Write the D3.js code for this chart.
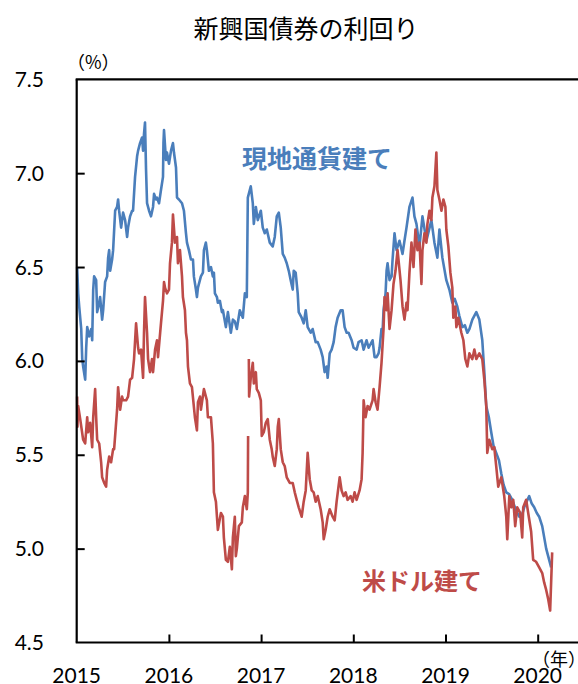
<!DOCTYPE html>
<html><head><meta charset="utf-8">
<script src="https://cdn.jsdelivr.net/npm/d3@7/dist/d3.min.js"></script>
<style>html,body{margin:0;padding:0;background:#fff;overflow:hidden}</style>
</head><body>
<svg id="c" width="578" height="684"></svg>
<script>
const title = "新興国債券の利回り";
const yUnit = "（%）";
const xUnit = "（年）";
const yTicks = [4.5, 5.0, 5.5, 6.0, 6.5, 7.0, 7.5];
const xTicks = [2015, 2016, 2017, 2018, 2019, 2020];
const seriesNames = ["現地通貨建て", "米ドル建て"];

// 現地通貨建て [year, %]
const localCcy = [[2015.005,6.50],[2015.016,6.36],[2015.027,6.29],[2015.049,6.17],[2015.060,6.01],[2015.070,5.97],[2015.092,5.90],[2015.103,6.07],[2015.114,6.18],[2015.135,6.13],[2015.157,6.17],[2015.168,6.11],[2015.179,6.38],[2015.189,6.45],[2015.211,6.43],[2015.222,6.26],[2015.244,6.31],[2015.254,6.34],[2015.276,6.22],[2015.287,6.27],[2015.308,6.42],[2015.330,6.45],[2015.341,6.55],[2015.352,6.59],[2015.363,6.48],[2015.384,6.54],[2015.395,6.59],[2015.417,6.80],[2015.438,6.82],[2015.449,6.86],[2015.460,6.80],[2015.482,6.71],[2015.503,6.79],[2015.525,6.75],[2015.547,6.66],[2015.557,6.71],[2015.579,6.77],[2015.601,6.80],[2015.611,6.80],[2015.633,6.98],[2015.655,7.09],[2015.666,7.12],[2015.687,7.16],[2015.709,7.19],[2015.720,7.12],[2015.730,7.21],[2015.741,7.27],[2015.752,7.02],[2015.763,6.84],[2015.785,6.80],[2015.806,6.77],[2015.828,6.82],[2015.839,6.89],[2015.860,6.86],[2015.871,6.87],[2015.893,6.84],[2015.914,6.91],[2015.936,6.98],[2015.941,7.16],[2015.947,7.23],[2015.968,7.07],[2015.979,7.11],[2016.001,7.05],[2016.023,7.12],[2016.044,7.16],[2016.055,7.11],[2016.077,7.03],[2016.088,6.87],[2016.109,6.86],[2016.142,6.84],[2016.163,6.80],[2016.185,6.68],[2016.196,6.63],[2016.217,6.59],[2016.239,6.54],[2016.261,6.54],[2016.271,6.45],[2016.293,6.38],[2016.304,6.34],[2016.315,6.39],[2016.347,6.45],[2016.369,6.47],[2016.380,6.59],[2016.401,6.63],[2016.412,6.59],[2016.434,6.48],[2016.456,6.50],[2016.477,6.45],[2016.488,6.47],[2016.499,6.36],[2016.521,6.34],[2016.531,6.31],[2016.553,6.32],[2016.575,6.26],[2016.586,6.27],[2016.618,6.18],[2016.640,6.26],[2016.672,6.15],[2016.694,6.22],[2016.715,6.21],[2016.737,6.17],[2016.769,6.27],[2016.802,6.23],[2016.824,6.36],[2016.845,6.34],[2016.856,6.87],[2016.888,6.93],[2016.910,6.84],[2016.921,6.73],[2016.943,6.82],[2016.964,6.75],[2016.997,6.80],[2017.018,6.71],[2017.040,6.68],[2017.062,6.70],[2017.094,6.63],[2017.126,6.61],[2017.148,6.66],[2017.170,6.77],[2017.192,6.79],[2017.213,6.71],[2017.235,6.57],[2017.256,6.55],[2017.278,6.52],[2017.300,6.48],[2017.321,6.43],[2017.343,6.38],[2017.354,6.48],[2017.375,6.47],[2017.397,6.36],[2017.408,6.26],[2017.440,6.23],[2017.462,6.20],[2017.484,6.27],[2017.505,6.18],[2017.538,6.15],[2017.559,6.17],[2017.592,6.10],[2017.614,6.10],[2017.646,6.06],[2017.668,6.02],[2017.689,5.94],[2017.711,5.97],[2017.722,5.91],[2017.744,6.04],[2017.765,6.06],[2017.787,6.10],[2017.808,6.18],[2017.830,6.23],[2017.863,6.27],[2017.884,6.27],[2017.906,6.18],[2017.928,6.15],[2017.949,6.15],[2017.982,6.11],[2018.003,6.07],[2018.036,6.06],[2018.057,6.10],[2018.090,6.11],[2018.112,6.06],[2018.144,6.11],[2018.166,6.07],[2018.209,6.11],[2018.231,6.02],[2018.252,6.02],[2018.274,6.04],[2018.285,6.07],[2018.306,6.17],[2018.317,6.15],[2018.328,6.27],[2018.350,6.36],[2018.361,6.48],[2018.372,6.52],[2018.393,6.43],[2018.415,6.45],[2018.426,6.54],[2018.447,6.68],[2018.469,6.59],[2018.501,6.64],[2018.534,6.57],[2018.555,6.64],[2018.577,6.71],[2018.609,6.82],[2018.642,6.87],[2018.663,6.77],[2018.685,6.73],[2018.718,6.61],[2018.750,6.77],[2018.793,6.64],[2018.847,6.75],[2018.880,6.63],[2018.912,6.55],[2018.934,6.70],[2018.966,6.55],[2019.009,6.43],[2019.042,6.38],[2019.074,6.31],[2019.100,6.33],[2019.128,6.29],[2019.150,6.24],[2019.183,6.18],[2019.210,6.19],[2019.237,6.15],[2019.260,6.17],[2019.291,6.22],[2019.334,6.26],[2019.367,6.22],[2019.399,6.11],[2019.421,5.94],[2019.442,5.76],[2019.470,5.70],[2019.496,5.62],[2019.520,5.55],[2019.550,5.51],[2019.580,5.47],[2019.605,5.40],[2019.630,5.34],[2019.659,5.30],[2019.690,5.29],[2019.724,5.26],[2019.760,5.21],[2019.800,5.17],[2019.830,5.18],[2019.854,5.22],[2019.880,5.25],[2019.908,5.28],[2019.935,5.24],[2019.962,5.22],[2019.990,5.19],[2020.016,5.17],[2020.049,5.12],[2020.092,5.00],[2020.146,4.90]];

// 米ドル建て [year, %]  (null = missing data)
const usdDenom = [[2015.005,5.81],[2015.008,5.65],[2015.016,5.76],[2015.038,5.69],[2015.070,5.58],[2015.092,5.56],[2015.114,5.70],[2015.124,5.62],[2015.146,5.67],[2015.168,5.54],[2015.179,5.70],[2015.200,5.85],[2015.211,5.70],[2015.222,5.58],[2015.244,5.56],[2015.265,5.46],[2015.276,5.38],[2015.298,5.35],[2015.319,5.33],[2015.330,5.42],[2015.352,5.49],[2015.373,5.46],[2015.395,5.53],[2015.406,5.53],[2015.438,5.74],[2015.449,5.86],[2015.471,5.74],[2015.492,5.81],[2015.503,5.79],[2015.536,5.79],[2015.557,5.81],[2015.579,5.90],[2015.601,5.91],[2015.622,6.01],[2015.644,6.20],[2015.666,6.07],[2015.676,6.04],[2015.698,6.06],[2015.720,5.91],[2015.730,6.15],[2015.741,6.34],[2015.763,6.15],[2015.774,6.01],[2015.795,5.94],[2015.817,6.01],[2015.828,5.94],[2015.850,6.06],[2015.871,6.11],[2015.882,6.02],[2015.914,6.20],[2015.936,6.32],[2015.947,6.42],[2015.958,6.39],[2015.979,6.36],[2016.001,6.38],[2016.012,6.52],[2016.033,6.63],[2016.044,6.78],[2016.066,6.63],[2016.088,6.66],[2016.098,6.52],[2016.120,6.59],[2016.142,6.45],[2016.152,6.34],[2016.174,6.27],[2016.185,6.15],[2016.196,6.11],[2016.207,5.97],[2016.228,5.88],[2016.250,5.86],[2016.282,5.70],[2016.304,5.63],[2016.315,5.78],[2016.337,5.81],[2016.347,5.74],[2016.380,5.85],[2016.412,5.79],[2016.423,5.70],[2016.456,5.70],[2016.477,5.56],[2016.488,5.30],[2016.510,5.25],[2016.531,5.10],[2016.564,5.19],[2016.586,5.17],[2016.596,5.06],[2016.618,4.94],[2016.640,4.93],[2016.661,5.01],[2016.683,4.89],[2016.694,5.06],[2016.715,5.17],[2016.726,4.96],[2016.737,5.00],[2016.759,5.12],[2016.791,5.14],[2016.802,5.22],[2016.824,5.28],[2016.845,5.21],[2016.856,5.30],[2016.859,5.60],[2016.863,null],[2016.867,6.01],[2016.870,5.81],[2016.888,5.91],[2016.910,5.99],[2016.921,5.88],[2016.943,5.94],[2016.953,5.85],[2016.975,5.83],[2016.997,5.79],[2017.007,5.60],[2017.029,5.62],[2017.051,5.67],[2017.072,5.69],[2017.094,5.58],[2017.115,5.53],[2017.126,5.49],[2017.148,5.44],[2017.170,5.53],[2017.181,5.65],[2017.192,5.69],[2017.213,5.53],[2017.235,5.46],[2017.256,5.44],[2017.278,5.38],[2017.311,5.35],[2017.343,5.35],[2017.365,5.30],[2017.386,5.26],[2017.408,5.22],[2017.440,5.17],[2017.462,5.25],[2017.484,5.31],[2017.505,5.51],[2017.527,5.37],[2017.549,5.31],[2017.570,5.30],[2017.592,5.25],[2017.614,5.28],[2017.646,5.21],[2017.668,5.14],[2017.679,5.05],[2017.700,5.10],[2017.722,5.17],[2017.744,5.21],[2017.776,5.17],[2017.798,5.15],[2017.819,5.25],[2017.852,5.38],[2017.873,5.31],[2017.895,5.28],[2017.917,5.30],[2017.938,5.26],[2017.971,5.28],[2017.992,5.25],[2018.014,5.30],[2018.036,5.26],[2018.068,5.31],[2018.090,5.37],[2018.101,5.51],[2018.106,5.63],[2018.112,5.79],[2018.133,5.70],[2018.155,5.76],[2018.176,5.74],[2018.209,5.79],[2018.220,5.85],[2018.242,5.78],[2018.263,5.74],[2018.285,5.86],[2018.306,5.99],[2018.328,6.17],[2018.339,6.34],[2018.361,6.27],[2018.372,6.36],[2018.393,6.17],[2018.415,6.27],[2018.436,6.41],[2018.458,6.48],[2018.480,6.59],[2018.512,6.43],[2018.534,6.29],[2018.555,6.22],[2018.577,6.31],[2018.588,6.27],[2018.609,6.47],[2018.631,6.63],[2018.653,6.50],[2018.674,6.70],[2018.696,6.59],[2018.718,6.63],[2018.739,6.41],[2018.750,6.59],[2018.772,6.68],[2018.793,6.63],[2018.804,6.73],[2018.826,6.80],[2018.847,6.75],[2018.858,6.87],[2018.880,6.93],[2018.901,7.11],[2018.912,6.91],[2018.934,6.86],[2018.956,6.80],[2018.977,6.86],[2018.999,6.82],[2019.009,6.70],[2019.031,6.61],[2019.053,6.47],[2019.074,6.39],[2019.085,6.23],[2019.107,6.29],[2019.118,6.18],[2019.139,6.23],[2019.172,6.15],[2019.194,6.11],[2019.215,6.01],[2019.237,5.97],[2019.259,6.04],[2019.291,6.01],[2019.313,6.06],[2019.334,6.01],[2019.367,6.04],[2019.399,6.01],[2019.421,5.90],[2019.442,5.76],[2019.453,5.51],[2019.475,5.58],[2019.507,5.53],[2019.529,5.54],[2019.550,5.44],[2019.572,5.33],[2019.605,5.38],[2019.615,5.35],[2019.637,5.28],[2019.659,5.17],[2019.670,5.05],[2019.692,5.28],[2019.713,5.22],[2019.735,5.26],[2019.756,5.12],[2019.778,5.22],[2019.810,5.19],[2019.832,5.06],[2019.843,5.22],[2019.875,5.26],[2019.897,5.19],[2019.929,5.09],[2019.951,4.94],[2019.983,4.93],[2020.016,4.90],[2020.049,4.87],[2020.070,4.82],[2020.092,4.78],[2020.114,4.73],[2020.135,4.67],[2020.157,4.98]];

const colors = ["#4A7EBB", "#BE4B48"];

const svg = d3.select("#c");
const W = 578, H = 684;
const plotLeft = 76.7, plotTop = 79.3, plotBottom = 642.5;
const yearPx = 92.2;

const x = d3.scaleLinear().domain([2015, 2021]).range([plotLeft, plotLeft + 6 * yearPx]);
const y = d3.scaleLinear().domain([4.5, 7.5]).range([plotBottom, plotTop]);

const jp = "'Noto Sans CJK JP','Noto Sans',sans-serif";
const num = "Lato,'Liberation Sans',sans-serif";

// title
svg.append("text").attr("x", 306).attr("y", 38).attr("text-anchor", "middle")
  .attr("font-family", jp).attr("font-size", 25).attr("fill", "#000").text(title);

// unit labels
svg.append("text").attr("x", 67).attr("y", 69).attr("font-family", jp)
  .attr("font-size", 18).attr("fill", "#000").text(yUnit);
svg.append("text").attr("x", 532).attr("y", 666).attr("font-family", jp)
  .attr("font-size", 18).attr("fill", "#000").text(xUnit);

// lines
const line = d3.line().defined(d => d[1] != null).x(d => x(d[0])).y(d => y(d[1]));
const g = svg.append("g");
[localCcy, usdDenom].forEach((s, i) => {
  g.append("path").datum(s).attr("d", line).attr("fill", "none")
    .attr("stroke", colors[i]).attr("stroke-width", 2.6).attr("stroke-linejoin", "round");
});

// axes
const yAxis = d3.axisRight(y).tickValues(yTicks.slice(1, -1)).tickSize(8).tickFormat("");
const ya = svg.append("g").attr("transform", `translate(${plotLeft},0)`).call(yAxis);
ya.select(".domain").remove();
ya.selectAll("line").attr("stroke", "#000").attr("stroke-width", 2);

const xAxis = d3.axisTop(x).tickValues(xTicks.slice(1)).tickSize(8).tickFormat("");
const xa = svg.append("g").attr("transform", `translate(0,${plotBottom})`).call(xAxis);
xa.select(".domain").remove();
xa.selectAll("line").attr("stroke", "#000").attr("stroke-width", 2);

// frame lines
svg.append("line").attr("x1", plotLeft).attr("x2", plotLeft).attr("y1", plotTop).attr("y2", plotBottom)
  .attr("stroke", "#000").attr("stroke-width", 2.2);
svg.append("line").attr("x1", plotLeft - 1).attr("x2", W).attr("y1", plotBottom).attr("y2", plotBottom)
  .attr("stroke", "#000").attr("stroke-width", 2.2);
svg.append("line").attr("x1", plotLeft - 1).attr("x2", W).attr("y1", plotTop).attr("y2", plotTop)
  .attr("stroke", "#000").attr("stroke-width", 2.2);

// tick labels
svg.append("g").selectAll("text").data(yTicks).join("text")
  .attr("x", 44).attr("y", d => y(d)).attr("dy", "0.36em").attr("text-anchor", "end")
  .attr("font-family", num).attr("font-size", 21).attr("fill", "#000")
  .text(d => d.toFixed(1));
svg.append("g").selectAll("text").data(xTicks).join("text")
  .attr("x", d => x(d)).attr("y", 683).attr("text-anchor", "middle")
  .attr("font-family", num).attr("font-size", 21).attr("fill", "#000")
  .text(d => d);

// series labels
svg.append("text").attr("x", 242).attr("y", 168).attr("font-family", jp)
  .attr("font-weight", "bold").attr("font-size", 25).attr("fill", colors[0]).text(seriesNames[0]);
svg.append("text").attr("x", 362).attr("y", 590).attr("font-family", jp)
  .attr("font-weight", "bold").attr("font-size", 24).attr("fill", colors[1]).text(seriesNames[1]);
</script>
</body></html>
